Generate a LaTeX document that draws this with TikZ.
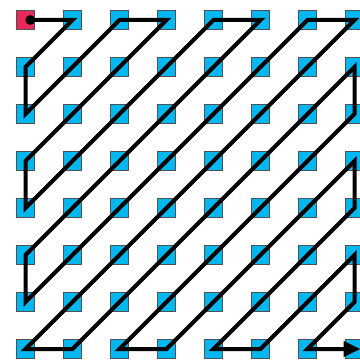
\documentclass[tikz,border=0pt]{standalone}
\usetikzlibrary{arrows.meta}
\definecolor{cellblue}{RGB}{0,183,239}
\definecolor{cellpink}{RGB}{232,40,92}
\definecolor{cellline}{RGB}{80,80,80}
\begin{document}
\begin{tikzpicture}[x=1pt,y=-1pt,
  cell/.style={draw=cellline, line width=0.9pt, fill=cellblue, minimum size=18.5pt, inner sep=0pt, outer sep=0pt},
  startcell/.style={cell, fill=cellpink},
  scan/.style={line width=4pt, {Circle[length=9.5pt]}-{Triangle[length=17pt,width=15pt]}, shorten >=-6pt}]
\useasboundingbox (0,0) rectangle (359,363);
\foreach \i in {0,...,7}{\foreach \j in {0,...,7}{
  \ifnum\i\j=0 \def\cs{startcell}\else\def\cs{cell}\fi
  \node[\cs] (n\i-\j) at ({25.5+47*\i},{20+47*\j}) {};
}}
\draw[scan] (n0-0.center) -- (n1-0.center) -- (n0-1.center) -- (n0-2.center)
  -- (n2-0.center) -- (n3-0.center) -- (n0-3.center) -- (n0-4.center)
  -- (n4-0.center) -- (n5-0.center) -- (n0-5.center) -- (n0-6.center)
  -- (n6-0.center) -- (n7-0.center) -- (n0-7.center) -- (n1-7.center)
  -- (n7-1.center) -- (n7-2.center) -- (n2-7.center) -- (n3-7.center)
  -- (n7-3.center) -- (n7-4.center) -- (n4-7.center) -- (n5-7.center)
  -- (n7-5.center) -- (n7-6.center) -- (n6-7.center) -- (n7-7.center);
\end{tikzpicture}
\end{document}
